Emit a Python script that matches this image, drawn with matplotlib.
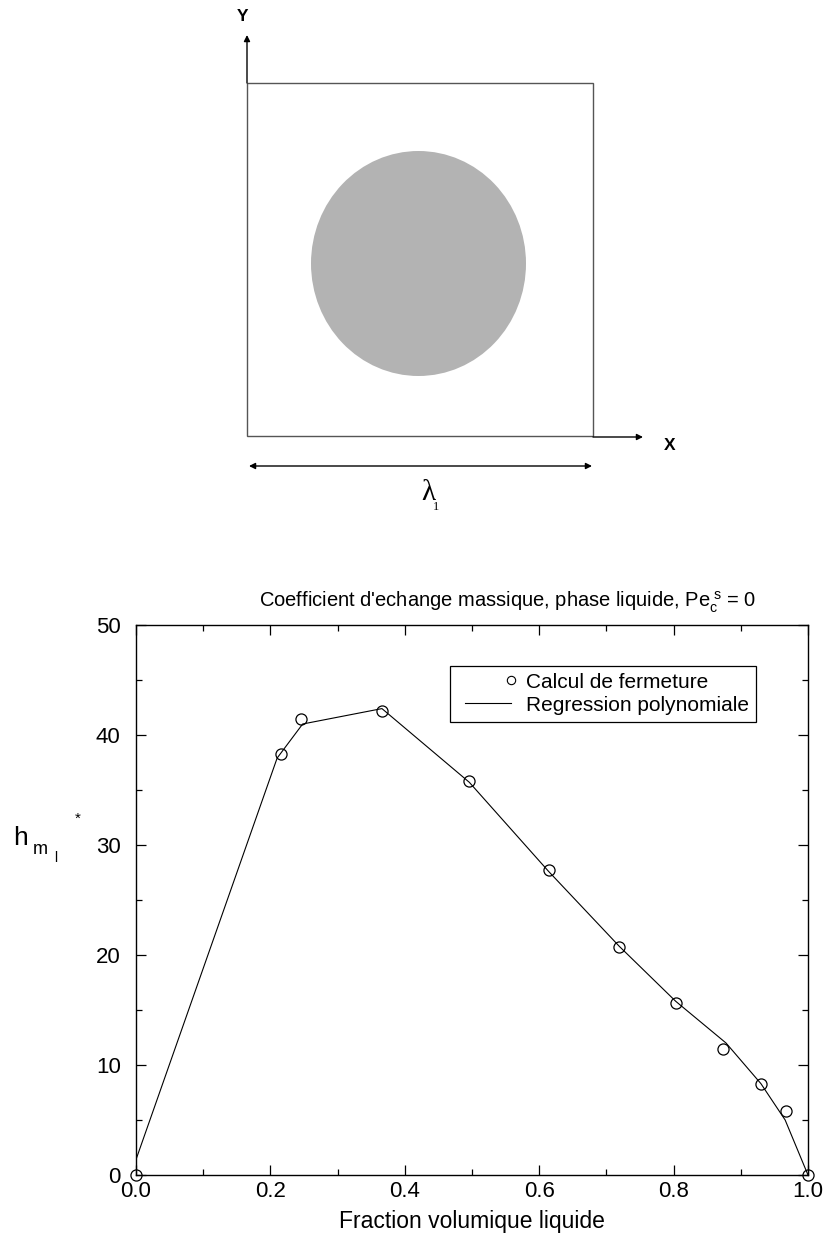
import matplotlib
matplotlib.use("Agg")
import matplotlib.pyplot as plt
from matplotlib.patches import Rectangle, Ellipse
from matplotlib.lines import Line2D
from matplotlib.legend_handler import HandlerBase

plt.rcParams['font.family'] = ['Liberation Sans', 'DejaVu Sans']
plt.rcParams['mathtext.fontset'] = 'custom'
plt.rcParams['mathtext.rm'] = 'Liberation Sans'
plt.rcParams['mathtext.it'] = 'Liberation Sans'

# Closure calculation results
x_calc = [0.0, 0.216, 0.246, 0.366, 0.496, 0.614, 0.719, 0.803, 0.873, 0.930, 0.967, 1.0]
h_calc = [0.0, 38.3, 41.5, 42.2, 35.8, 27.7, 20.7, 15.6, 11.5, 8.3, 5.8, 0.0]

# Polynomial regression evaluated at the plotted abscissae
x_fit = [0.0, 0.210, 0.248, 0.366, 0.496, 0.614, 0.719, 0.803, 0.878, 0.930, 0.966, 1.0]
h_fit = [1.4, 37.9, 41.0, 42.4, 35.7, 27.6, 20.8, 15.8, 12.0, 8.3, 5.0, 0.0]

x_ticks = [0.0, 0.2, 0.4, 0.6, 0.8, 1.0]
x_ticklabels = ['0.0', '0.2', '0.4', '0.6', '0.8', '1.0']
y_ticks = [0, 10, 20, 30, 40, 50]

W, H = 825, 1243
fig = plt.figure(figsize=(W / 100, H / 100), dpi=100)

# --- unit cell sketch (pixel coordinates) ---
ov = fig.add_axes([0, 0, 1, 1])
ov.set_xlim(0, W)
ov.set_ylim(H, 0)
ov.axis('off')

ov.add_patch(Rectangle((247, 83), 346, 353, fill=False, ec='#555555', lw=1.0))
ov.add_patch(Ellipse((418.5, 263.5), 215, 225, fc='#b3b3b3', ec='none'))

arrow = dict(arrowstyle='-|>', lw=1.0, color='black', mutation_scale=9,
             shrinkA=0, shrinkB=0)
ov.annotate('', xy=(247, 35), xytext=(247, 83), arrowprops=arrow)
ov.annotate('', xy=(643, 437), xytext=(593, 437), arrowprops=arrow)
ov.annotate('', xy=(592, 466), xytext=(249, 466),
            arrowprops=dict(arrowstyle='<|-|>', lw=1.0, color='black',
                            mutation_scale=9, shrinkA=0, shrinkB=0))
ov.text(243, 16, 'Y', fontsize=12.5, fontweight='bold', ha='center', va='center')
ov.text(670, 445, 'X', fontsize=12.5, fontweight='bold', ha='center', va='center')
ov.text(428, 493, '\u03bb', fontsize=21, family='Liberation Serif',
        ha='center', va='center')
ov.text(436, 507, '1', fontsize=9, family='Liberation Serif',
        ha='center', va='center')

# y-axis label h_{m_l}^*
ov.text(13, 845, 'h', fontsize=19, ha='left', va='baseline')
ov.text(33, 854, 'm', fontsize=13, ha='left', va='baseline')
ov.text(54, 862, 'l', fontsize=10, ha='left', va='baseline')
ov.text(75, 823, '*', fontsize=11, ha='left', va='baseline')

# --- mass exchange coefficient plot ---
ax = fig.add_axes([136 / W, 1 - 1175 / H, 672 / W, 550 / H])
ax.plot(x_fit, h_fit, color='black', lw=0.8)
ax.plot(x_calc, h_calc, linestyle='none', marker='o', markersize=8,
        markerfacecolor='none', markeredgecolor='black', markeredgewidth=0.9,
        clip_on=False, zorder=3)

ax.set_xlim(0, 1)
ax.set_ylim(0, 50)
ax.set_xticks(x_ticks)
ax.set_xticklabels(x_ticklabels)
ax.set_yticks(y_ticks)
ax.set_xticks([0.1, 0.3, 0.5, 0.7, 0.9], minor=True)
ax.set_yticks([5, 15, 25, 35, 45], minor=True)
ax.tick_params(which='both', direction='in', top=True, right=True, width=0.9)
ax.tick_params(which='major', length=7, labelsize=16)
ax.tick_params(which='minor', length=4)
ax.tick_params(axis='y', pad=11)
ax.tick_params(axis='x', pad=4)
for s in ax.spines.values():
    s.set_linewidth(1.0)

ax.set_xlabel('Fraction volumique liquide', fontsize=16.5, labelpad=6)
ax.set_title(r"Coefficient d'echange massique, phase liquide, "
             r"Pe$_{\mathregular{c}}^{\ \mathregular{s}}$ = 0",
             fontsize=14.5, pad=13, x=0.553)


class MarkerAtRight(HandlerBase):
    """Legend entry showing a single marker at the right end of the handle."""
    def create_artists(self, legend, orig_handle, xdescent, ydescent,
                       width, height, fontsize, trans):
        m = Line2D([width - xdescent - 1], [height / 2 - ydescent],
                   linestyle='none', marker='o', markersize=6,
                   markerfacecolor='none', markeredgecolor='black',
                   markeredgewidth=0.8, transform=trans)
        return [m]


class IndentedLine(HandlerBase):
    """Legend entry showing a line starting a little inside the handle box."""
    def create_artists(self, legend, orig_handle, xdescent, ydescent,
                       width, height, fontsize, trans):
        y = height / 2 - ydescent
        ln = Line2D([-xdescent + 6, width - xdescent - 1], [y, y],
                    color='black', lw=0.8, transform=trans)
        return [ln]


h_pts = Line2D([], [], linestyle='none', marker='o')
h_line = Line2D([], [], color='black')
leg = ax.legend([h_pts, h_line], ['Calcul de fermeture', 'Regression polynomiale'],
                handler_map={h_pts: MarkerAtRight(), h_line: IndentedLine()},
                loc='upper left', bbox_to_anchor=(0.467, 0.926),
                fontsize=15, frameon=True, fancybox=False, framealpha=1,
                edgecolor='black', borderpad=0.33, labelspacing=0.2,
                handlelength=2.65, handletextpad=0.7, borderaxespad=0)
leg.get_frame().set_linewidth(0.9)

fig.savefig('out.png', dpi=100)
